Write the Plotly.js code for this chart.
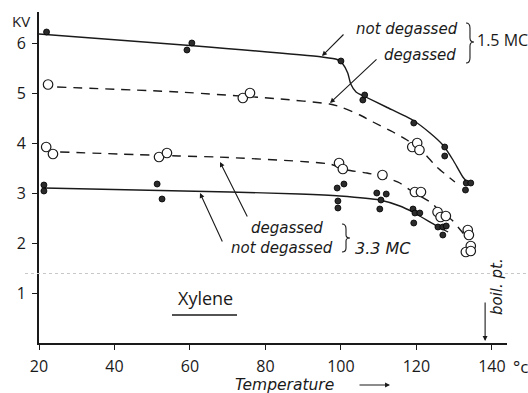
<!DOCTYPE html>
<html><head><meta charset="utf-8">
<script src="https://cdn.plot.ly/plotly-3.0.1.min.js"></script>
<style>html,body{margin:0;padding:0;background:#fff}#chart{width:528px;height:393px}</style>
</head><body><div id="chart"></div>
<script>
// ---- data ----
// 1.5 MC, not degassed (filled dots, solid curve)
const nd15X = [22, 59.2, 60.5, 100, 105.8, 106.3, 119.3, 127.5, 127.5, 133, 133.2, 134.4];
const nd15Y = [6.22, 5.86, 6.0, 5.64, 4.86, 4.96, 4.4, 3.92, 3.74, 3.06, 3.2, 3.2];
const nd15CurveX = [20, 60, 95, 99, 100.5, 101.8, 102.6, 104, 106, 112, 119, 123.6, 127, 129.7, 132.3, 134.2];
const nd15CurveY = [6.18, 5.95, 5.72, 5.67, 5.58, 5.4, 5.18, 5.02, 4.94, 4.72, 4.46, 4.2, 3.96, 3.66, 3.32, 3.16];
// 1.5 MC, degassed (open circles, dashed curve)
const dg15X = [22.4, 74, 75.9, 118.9, 120.2, 120.8];
const dg15Y = [5.17, 4.9, 5.0, 3.92, 4.0, 3.86];
const dg15CurveX = [24.8, 57, 84, 97, 100, 105, 108.5, 113.8, 117.5, 121.7, 125.4, 130.2];
const dg15CurveY = [5.12, 5.02, 4.88, 4.78, 4.72, 4.56, 4.42, 4.22, 4.06, 3.82, 3.52, 3.22];
// 3.3 MC, degassed (open circles, dashed curve)
const dg33X = [21.9, 23.7, 51.8, 53.9, 99.5, 100.5, 111, 119.6, 121.2, 125.6, 126.4, 127.8, 133.6, 133.9, 134.4, 133.1, 134.4];
const dg33Y = [3.92, 3.78, 3.72, 3.8, 3.6, 3.48, 3.36, 3.02, 3.02, 2.62, 2.52, 2.54, 2.26, 2.16, 1.94, 1.82, 1.84];
const dg33CurveX = [25.6, 57, 67, 97, 101.6, 106.9, 111, 115.6, 118.3, 123.6, 125.7, 129.4, 131, 133];
const dg33CurveY = [3.82, 3.74, 3.72, 3.58, 3.46, 3.4, 3.33, 3.2, 3.06, 2.82, 2.68, 2.46, 2.32, 2.14];
// 3.3 MC, not degassed (filled dots, solid curve)
const nd33X = [21.3, 21.3, 51.3, 52.6, 99, 100.8, 99.2, 99.2, 109.5, 112, 110.6, 110.3, 119.1, 119.6, 120.9, 119.3, 125.7, 127, 127.9, 127];
const nd33Y = [3.16, 3.04, 3.18, 2.88, 3.1, 3.18, 2.84, 2.7, 3.0, 2.98, 2.86, 2.68, 2.68, 2.6, 2.6, 2.4, 2.32, 2.32, 2.34, 2.16];
const nd33CurveX = [21.3, 70.6, 89, 99.7, 110.3, 115.6, 119, 125.4, 128.4];
const nd33CurveY = [3.1, 3.02, 2.98, 2.94, 2.86, 2.74, 2.62, 2.34, 2.22];

const xTicks = [20, 40, 60, 80, 100, 120, 140];
const yTicks = [1, 2, 3, 4, 5, 6];
const boilingPoint = 138.2;

// ---- layout helpers (pixel -> paper) ----
const W = 528, H = 393, ML = 39, MR = 21, MT = 12, MB = 50;
const PW = W - ML - MR, PH = H - MT - MB;
function px(x) { return (x - ML) / PW; }
function py(y) { return (H - MB - y) / PH; }
function pp(x, y) { return px(x).toFixed(4) + ',' + py(y).toFixed(4); }

const ink = '#1a1a1a';
const hand = {family: 'DejaVu Sans, Open Sans, sans-serif', size: 15, color: ink, style: 'italic'};
const upright = {family: 'Open Sans, DejaVu Sans, sans-serif', size: 16, color: ink};

function lineTrace(x, y, dash) {
  return {x, y, mode: 'lines', type: 'scatter', hoverinfo: 'skip',
    line: {color: ink, width: 1.4, dash: dash, shape: 'spline', smoothing: 0.6}};
}
const filled = {size: 6, color: '#2b2b2b', line: {color: '#000', width: 0.8}};
const openC = {size: 9.5, color: '#fff', line: {color: ink, width: 1.2}};

const data = [
  lineTrace(nd15CurveX, nd15CurveY, 'solid'),
  lineTrace(dg15CurveX, dg15CurveY, '9px,7px'),
  lineTrace(dg33CurveX, dg33CurveY, '9px,7px'),
  lineTrace(nd33CurveX, nd33CurveY, 'solid'),
  {x: dg15X, y: dg15Y, mode: 'markers', type: 'scatter', marker: openC},
  {x: dg33X, y: dg33Y, mode: 'markers', type: 'scatter', marker: openC},
  {x: nd15X, y: nd15Y, mode: 'markers', type: 'scatter', marker: filled},
  {x: nd33X, y: nd33Y, mode: 'markers', type: 'scatter', marker: filled}
];

function txt(text, x, y, font, extra) {
  return Object.assign({text, x: px(x), y: py(y), xref: 'paper', yref: 'paper',
    showarrow: false, font: font, xanchor: 'center', yanchor: 'middle'}, extra || {});
}
function arrow(x, y, ax, ay) {
  return {text: '', x: px(x), y: py(y), xref: 'paper', yref: 'paper', showarrow: true,
    ax, ay, arrowhead: 2, arrowsize: 0.9, arrowwidth: 1.1, arrowcolor: ink};
}

const annotations = [
  txt('KV', 21, 21, Object.assign({}, upright, {size: 15})),
  txt('not degassed', 407, 29, hand),
  txt('degassed', 420, 55, hand),
  txt('1.5 MC', 502, 40, upright),
  txt('degassed', 287, 228, hand),
  txt('not degassed', 282, 248, hand),
  txt('3.3 MC', 383, 248, Object.assign({}, hand, {size: 16})),
  txt('Xylene', 205, 298, Object.assign({}, upright, {size: 18})),
  txt('Temperature', 284, 385, Object.assign({}, hand, {size: 15.5})),
  txt('boil. pt.', 497, 287, hand, {textangle: -90}),
  txt('°c', 520, 366, Object.assign({}, upright, {size: 17})),
  arrow(322, 56, 23, -23),
  arrow(330, 103, 48, -45),
  arrow(220, 162, 28, 56),
  arrow(200, 193, 23, 50),
  {text: '', x: boilingPoint, y: 0.04, xref: 'x', yref: 'y', showarrow: true, ax: 0, ay: -40,
    arrowhead: 2, arrowsize: 0.9, arrowwidth: 1.1, arrowcolor: ink},
  arrow(390, 385, -32, 0)
];

const shapes = [
  {type: 'line', xref: 'paper', yref: 'y', x0: px(25), x1: px(528), y0: 1.39, y1: 1.39,
    line: {color: '#c8c8c8', width: 1, dash: 'dot'}},
  {type: 'line', xref: 'paper', yref: 'paper', x0: px(172), x1: px(237), y0: py(315), y1: py(315),
    line: {color: ink, width: 1.3}},
  {type: 'path', xref: 'paper', yref: 'paper', line: {color: ink, width: 1.1},
    path: 'M' + pp(466, 23) + ' Q' + pp(470, 23) + ' ' + pp(470, 28) + ' L' + pp(470, 38) +
      ' Q' + pp(470, 42) + ' ' + pp(474, 42) + ' Q' + pp(470, 42) + ' ' + pp(470, 46) +
      ' L' + pp(470, 58) + ' Q' + pp(470, 63) + ' ' + pp(466, 63)},
  {type: 'path', xref: 'paper', yref: 'paper', line: {color: ink, width: 1.1},
    path: 'M' + pp(342, 224) + ' Q' + pp(346, 224) + ' ' + pp(346, 229) + ' L' + pp(346, 235) +
      ' Q' + pp(346, 238) + ' ' + pp(350, 238) + ' Q' + pp(346, 238) + ' ' + pp(346, 241) +
      ' L' + pp(346, 248) + ' Q' + pp(346, 252) + ' ' + pp(342, 252)}
];

const axisCommon = {showgrid: false, zeroline: false, showline: true, linecolor: ink, linewidth: 2,
  ticks: 'outside', ticklen: 5, tickwidth: 1, tickcolor: ink, ticklabelstandoff: 3,
  tickfont: upright, fixedrange: true};

const layout = {
  width: W, height: H, margin: {l: ML, r: MR, t: MT, b: MB},
  paper_bgcolor: '#fff', plot_bgcolor: '#fff', showlegend: false,
  xaxis: Object.assign({}, axisCommon, {range: [20, 144], tickvals: xTicks, ticktext: xTicks.map(String)}),
  yaxis: Object.assign({}, axisCommon, {range: [0, 6.62], tickvals: yTicks, ticktext: yTicks.map(String)}),
  annotations, shapes
};

Plotly.newPlot('chart', data, layout, {staticPlot: true, displayModeBar: false});
</script></body></html>
